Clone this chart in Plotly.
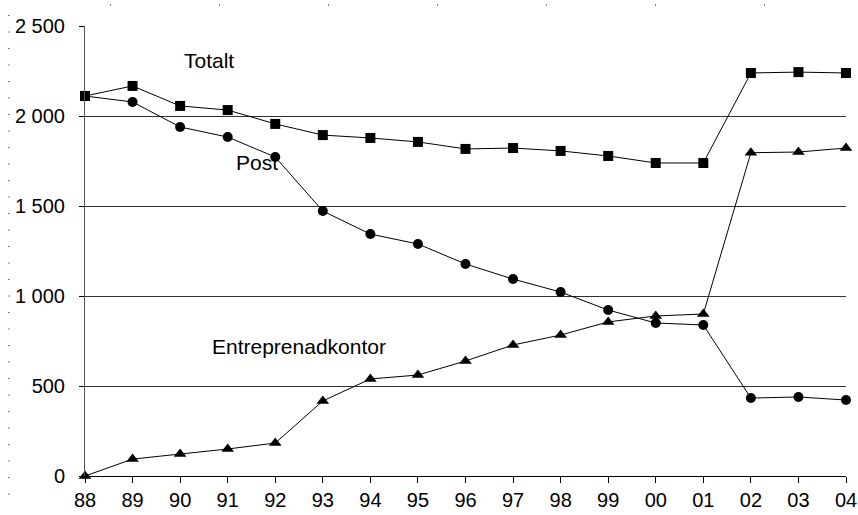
import plotly.graph_objects as go

years = ["88", "89", "90", "91", "92", "93", "94", "95", "96", "97", "98", "99", "00", "01", "02", "03", "04"]
totalt = [2111, 2167, 2056, 2033, 1956, 1894, 1878, 1856, 1817, 1822, 1806, 1778, 1739, 1739, 2239, 2244, 2239]
post = [2111, 2078, 1939, 1883, 1772, 1472, 1344, 1289, 1178, 1094, 1022, 922, 850, 839, 433, 439, 422]
entreprenad = [0, 94, 122, 150, 183, 417, 539, 561, 639, 728, 783, 856, 889, 900, 1796, 1800, 1822]
yticks = [0, 500, 1000, 1500, 2000, 2500]
ytick_labels = ["0", "500", "1 000", "1 500", "2 000", "2 500"]

xs = list(range(len(years)))
font = "Liberation Sans, Arial, sans-serif"

fig = go.Figure()
for name, vals, sym, sz in [("Totalt", totalt, "square", 10),
                            ("Post", post, "circle", 10),
                            ("Entreprenadkontor", entreprenad, "triangle-up", 11)]:
    fig.add_trace(go.Scatter(x=xs, y=vals, mode="lines+markers", name=name,
                             line=dict(color="black", width=1),
                             marker=dict(symbol=sym, size=sz, color="black"),
                             cliponaxis=False))

for text, x, y in [("Totalt", 2.61, 2306), ("Post", 3.62, 1744), ("Entreprenadkontor", 4.50, 722)]:
    fig.add_annotation(x=x, y=y, text=text, showarrow=False,
                       font=dict(family=font, size=21, color="black"))

# sparse dotted frame at left and top edges
fig.add_shape(type="line", xref="paper", yref="paper", x0=-0.0999, x1=-0.0999, y0=1.0244, y1=-0.0644,
              line=dict(color="black", width=1, dash="1px,15.5px"))
fig.add_shape(type="line", xref="paper", yref="paper", x0=0.0329, x1=0.8936, y0=1.0467, y1=1.0467,
              line=dict(color="black", width=1, dash="1px,108px"))

fig.update_layout(
    width=858, height=515,
    margin=dict(l=85, r=12, t=26, b=39),
    paper_bgcolor="white", plot_bgcolor="white",
    showlegend=False,
    font=dict(family=font, size=20, color="black"),
    xaxis=dict(range=[0, 16], tickvals=xs, ticktext=years, showgrid=False,
               showline=True, linecolor="black", linewidth=1, automargin=False,
               ticks="outside", ticklen=6, tickcolor="black", zeroline=False),
    yaxis=dict(range=[0, 2500], tickvals=yticks, ticktext=ytick_labels,
               showgrid=True, gridcolor="#303030", gridwidth=1, automargin=False,
               showline=True, linecolor="#555", linewidth=1,
               ticks="outside", ticklen=5, tickcolor="black", zeroline=False,
               ticklabelstandoff=10),
)

fig.write_html("out.html", config={"displayModeBar": False},
               post_script="document.body.style.margin='0px';")
